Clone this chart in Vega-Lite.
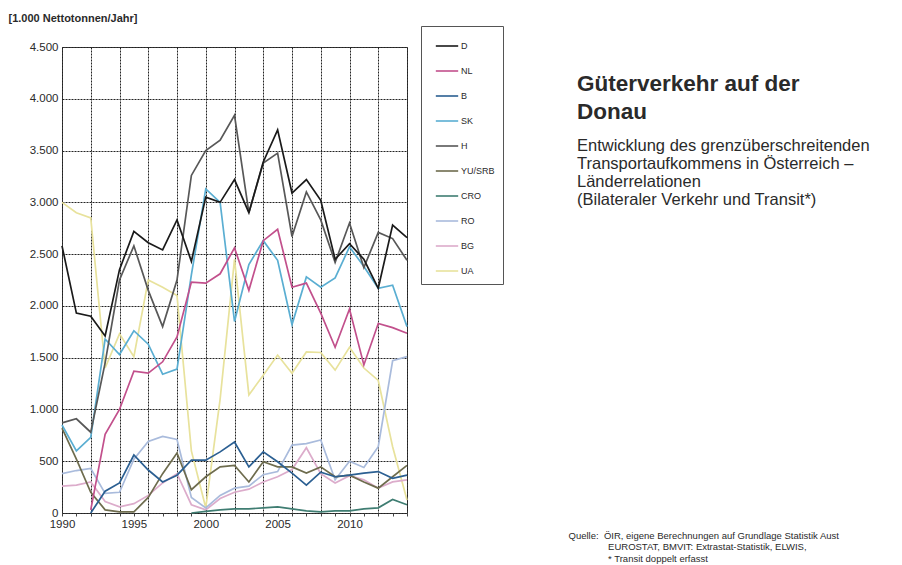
{
  "$schema": "https://vega.github.io/schema/vega-lite/v6.json",
  "width": 345,
  "height": 466,
  "autosize": {"type": "none"},
  "padding": {"left": 62, "top": 47, "right": 495, "bottom": 52},
  "background": "white",
  "config": {
    "font": "Liberation Sans",
    "locale": {"number": {"decimal": ",", "thousands": ".", "grouping": [3], "currency": ["", " €"]}},
    "view": {"stroke": "#444", "strokeWidth": 1}
  },
  "title": {
    "text": ["Güterverkehr auf der", "Donau"],
    "subtitle": ["Entwicklung des grenzüberschreitenden", "Transportaufkommens in Österreich –", "Länderrelationen", "(Bilateraler Verkehr und Transit*)"],
    "orient": "top",
    "anchor": "start",
    "frame": "group",
    "dx": 515,
    "dy": 206,
    "offset": 10,
    "font": "Liberation Sans",
    "fontSize": 22.5,
    "fontWeight": "bold",
    "color": "#2a2a2a",
    "lineHeight": 28,
    "subtitleFont": "Liberation Sans",
    "subtitleFontSize": 16.5,
    "subtitleColor": "#2a2a2a",
    "subtitleLineHeight": 18,
    "subtitlePadding": 14
  },
  "data": {
    "values": [
      {"year": 1990, "D": 2580, "NL": null, "B": null, "SK": 850, "H": 870, "YU/SRB": 820, "CRO": null, "RO": 380, "BG": 260, "UA": 3000},
      {"year": 1991, "D": 1930, "NL": null, "B": null, "SK": 600, "H": 910, "YU/SRB": 520, "CRO": null, "RO": 410, "BG": 270, "UA": 2900},
      {"year": 1992, "D": 1900, "NL": 30, "B": 0, "SK": 730, "H": 780, "YU/SRB": 200, "CRO": null, "RO": 430, "BG": 300, "UA": 2850},
      {"year": 1993, "D": 1710, "NL": 760, "B": 210, "SK": 1680, "H": 1450, "YU/SRB": 30, "CRO": null, "RO": 190, "BG": 110, "UA": 1400},
      {"year": 1994, "D": 2350, "NL": 1000, "B": 290, "SK": 1530, "H": 2250, "YU/SRB": 10, "CRO": null, "RO": 200, "BG": 60, "UA": 1730},
      {"year": 1995, "D": 2720, "NL": 1370, "B": 560, "SK": 1760, "H": 2580, "YU/SRB": 10, "CRO": null, "RO": 520, "BG": 90, "UA": 1510},
      {"year": 1996, "D": 2610, "NL": 1350, "B": 415, "SK": 1630, "H": 2150, "YU/SRB": 150, "CRO": null, "RO": 690, "BG": 170, "UA": 2250},
      {"year": 1997, "D": 2540, "NL": 1460, "B": 300, "SK": 1340, "H": 1800, "YU/SRB": 380, "CRO": null, "RO": 740, "BG": 290, "UA": 2180},
      {"year": 1998, "D": 2830, "NL": 1700, "B": 365, "SK": 1390, "H": 2250, "YU/SRB": 580, "CRO": null, "RO": 710, "BG": 380, "UA": 2100},
      {"year": 1999, "D": 2430, "NL": 2230, "B": 510, "SK": 2300, "H": 3260, "YU/SRB": 225, "CRO": 0, "RO": 150, "BG": 80, "UA": 600},
      {"year": 2000, "D": 3050, "NL": 2220, "B": 510, "SK": 3130, "H": 3500, "YU/SRB": 350, "CRO": 15, "RO": 50, "BG": 30, "UA": 50},
      {"year": 2001, "D": 3000, "NL": 2310, "B": 590, "SK": 3000, "H": 3600, "YU/SRB": 445, "CRO": 30, "RO": 170, "BG": 140, "UA": 1100},
      {"year": 2002, "D": 3220, "NL": 2560, "B": 685, "SK": 1850, "H": 3840, "YU/SRB": 460, "CRO": 40, "RO": 240, "BG": 200, "UA": 2450},
      {"year": 2003, "D": 2900, "NL": 2150, "B": 445, "SK": 2400, "H": 2900, "YU/SRB": 300, "CRO": 40, "RO": 260, "BG": 230, "UA": 1140},
      {"year": 2004, "D": 3390, "NL": 2630, "B": 590, "SK": 2630, "H": 3380, "YU/SRB": 495, "CRO": 50, "RO": 370, "BG": 300, "UA": 1330},
      {"year": 2005, "D": 3700, "NL": 2740, "B": 495, "SK": 2440, "H": 3475, "YU/SRB": 445, "CRO": 60, "RO": 400, "BG": 350, "UA": 1525},
      {"year": 2006, "D": 3090, "NL": 2180, "B": 385, "SK": 1820, "H": 2670, "YU/SRB": 445, "CRO": 40, "RO": 655, "BG": 420, "UA": 1350},
      {"year": 2007, "D": 3220, "NL": 2220, "B": 270, "SK": 2280, "H": 3100, "YU/SRB": 385, "CRO": 20, "RO": 670, "BG": 630, "UA": 1555},
      {"year": 2008, "D": 3020, "NL": 1930, "B": 395, "SK": 2180, "H": 2830, "YU/SRB": 445, "CRO": 10, "RO": 705, "BG": 380, "UA": 1550},
      {"year": 2009, "D": 2450, "NL": 1600, "B": 350, "SK": 2270, "H": 2420, "YU/SRB": 350, "CRO": 20, "RO": 320, "BG": 290, "UA": 1380},
      {"year": 2010, "D": 2600, "NL": 1970, "B": 365, "SK": 2570, "H": 2800, "YU/SRB": 365, "CRO": 20, "RO": 500, "BG": 360, "UA": 1600},
      {"year": 2011, "D": 2450, "NL": 1430, "B": 385, "SK": 2380, "H": 2370, "YU/SRB": 300, "CRO": 40, "RO": 440, "BG": 320, "UA": 1400},
      {"year": 2012, "D": 2170, "NL": 1830, "B": 400, "SK": 2170, "H": 2710, "YU/SRB": 240, "CRO": 50, "RO": 640, "BG": 240, "UA": 1280},
      {"year": 2013, "D": 2780, "NL": 1790, "B": 335, "SK": 2200, "H": 2650, "YU/SRB": 350, "CRO": 130, "RO": 1470, "BG": 300, "UA": 640},
      {"year": 2014, "D": 2660, "NL": 1735, "B": 365, "SK": 1800, "H": 2440, "YU/SRB": 460, "CRO": 80, "RO": 1510, "BG": 320, "UA": 125}
    ]
  },
  "transform": [
    {"fold": ["UA", "BG", "RO", "CRO", "YU/SRB", "B", "SK", "NL", "H", "D"], "as": ["land", "wert"]}
  ],
  "mark": {"type": "line", "strokeWidth": 1.7, "interpolate": "linear"},
  "encoding": {
    "x": {
      "field": "year",
      "type": "quantitative",
      "scale": {"domain": [1990, 2014], "nice": false, "zero": false},
      "axis": {
        "values": [1990, 1991, 1992, 1993, 1994, 1995, 1996, 1997, 1998, 1999, 2000, 2001, 2002, 2003, 2004, 2005, 2006, 2007, 2008, 2009, 2010, 2011, 2012, 2013, 2014],
        "labelExpr": "datum.value % 5 == 0 ? datum.value : ''",
        "labelFontSize": 11.5,
        "labelColor": "#2a2a2a",
        "labelPadding": 2,
        "labelFlush": false,
        "domain": false,
        "ticks": true,
        "tickSize": 3,
        "tickColor": "#444",
        "grid": true,
        "gridColor": "#222",
        "gridDash": [2, 1],
        "gridWidth": 1,
        "gridOpacity": {"expr": "datum.value % 2 == 0 ? 1 : 0"},
        "title": ["Quelle:\u00a0\u00a0ÖIR, eigene Berechnungen auf Grundlage Statistik Aust", "\u200b\u00a0\u00a0\u00a0\u00a0\u00a0\u00a0\u00a0\u00a0\u00a0\u00a0\u00a0\u00a0\u00a0\u00a0\u00a0EUROSTAT, BMVIT: Extrastat-Statistik, ELWIS,", "\u200b\u00a0\u00a0\u00a0\u00a0\u00a0\u00a0\u00a0\u00a0\u00a0\u00a0\u00a0\u00a0\u00a0\u00a0\u00a0* Transit doppelt erfasst"],
        "titleX": 506,
        "titleY": 25,
        "titleAlign": "left",
        "titleAnchor": null,
        "titleBaseline": "alphabetic",
        "titleFontSize": 9.5,
        "titleFontWeight": "normal",
        "titleColor": "#2a2a2a",
        "titleLineHeight": 11.5
      }
    },
    "y": {
      "field": "wert",
      "type": "quantitative",
      "scale": {"domain": [0, 4500], "nice": false},
      "axis": {
        "values": [0, 500, 1000, 1500, 2000, 2500, 3000, 3500, 4000, 4500],
        "format": ",d",
        "labelFontSize": 11.5,
        "labelColor": "#2a2a2a",
        "labelPadding": 4,
        "domain": false,
        "ticks": false,
        "grid": true,
        "gridColor": "#222",
        "gridDash": [2, 1],
        "gridWidth": 1,
        "title": "[1.000 Nettotonnen/Jahr]",
        "titleAngle": 0,
        "titleX": -54,
        "titleY": -29,
        "titleAlign": "left",
        "titleAnchor": null,
        "titleBaseline": "middle",
        "titleFontSize": 11,
        "titleFontWeight": "bold",
        "titleColor": "#2a2a2a"
      }
    },
    "color": {
      "field": "land",
      "type": "nominal",
      "scale": {
        "domain": ["D", "NL", "B", "SK", "H", "YU/SRB", "CRO", "RO", "BG", "UA"],
        "range": ["#1a1a1a", "#c2508c", "#2b5f92", "#5aaed2", "#585858", "#6e6c4e", "#3f7d72", "#a9bbdc", "#dcaccb", "#e8e29c"]
      },
      "legend": {
        "title": null,
        "orient": "none",
        "legendX": 359,
        "legendY": -21,
        "symbolType": "stroke",
        "symbolSize": 500,
        "symbolStrokeWidth": 1.6,
        "symbolOffset": 6,
        "labelFontSize": 9,
        "labelColor": "#2a2a2a",
        "labelOffset": 2,
        "labelLimit": 200,
        "rowPadding": 8,
        "padding": 8,
        "strokeColor": "#555",
        "fillColor": "white"
      }
    },
    "order": {"field": "year", "type": "quantitative"}
  }
}
